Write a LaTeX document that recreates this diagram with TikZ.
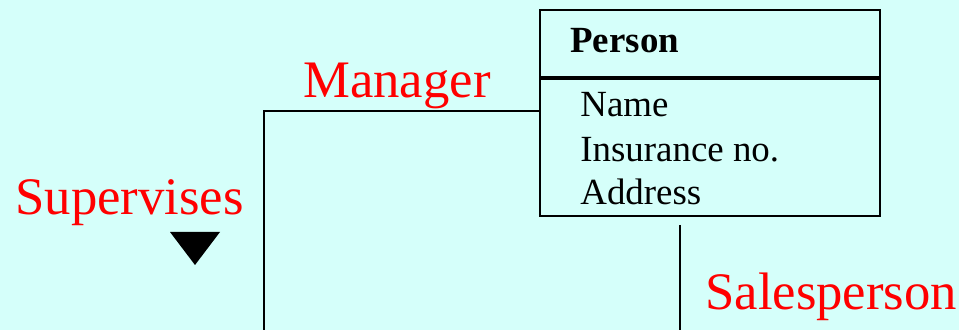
\documentclass[tikz,border=0pt]{standalone}
\usepackage{fontspec}
\setmainfont{Liberation Serif}
\definecolor{bgcyan}{RGB}{213,255,250}
\definecolor{rolered}{RGB}{255,0,0}
\tikzset{
  classbox/.style={draw=black, line width=1.2pt, minimum width=6.8cm, inner sep=0pt},
  attr/.style={anchor=base west, inner sep=0pt, font=\rmfamily\fontsize{21}{24}\selectfont},
  rolelabel/.style={anchor=base west, inner sep=0pt, text=rolered, font=\rmfamily\fontsize{30}{34}\selectfont},
  assoc/.style={draw=black, line width=1.2pt}
}
\begin{document}
\begin{tikzpicture}[x=0.02cm,y=-0.02cm]
\fill[color=bgcyan] (0,0) rectangle (959,330);
\useasboundingbox (0,0) rectangle (959,330);

% class box
\node[classbox, minimum height=1.34cm, anchor=north west] (person) at (539,9) {};
\node[classbox, minimum height=2.74cm, anchor=north] (attrs) at (person.south) {};

\node[attr, font=\rmfamily\fontsize{21}{24}\selectfont\bfseries] (pname) at (570,53) {Person};
\node[attr] (aname) at (580,117) {Name};
\node[attr] (ains) at (580,162) {Insurance no.};
\node[attr] (aaddr) at (580,205) {Address};

% associations
\coordinate (mgr) at (attrs.west |- 0,111);
\coordinate (mgrfoot) at (264,330);
\coordinate (salestop) at (680,225);
\coordinate (salesfoot) at (680,330);
\draw[assoc] (mgr) -| (mgrfoot);
\draw[assoc] (salestop) -- (salesfoot);

% roles
\node[rolelabel] (manager) at (303,98) {Manager};
\node[rolelabel] (supervises) at (15,215) {Supervises};
\node[rolelabel] (salesperson) at (705,310) {Salesperson};
\fill[black] (170,232) -- (220,232) -- (195,265) -- cycle;
\end{tikzpicture}
\end{document}
